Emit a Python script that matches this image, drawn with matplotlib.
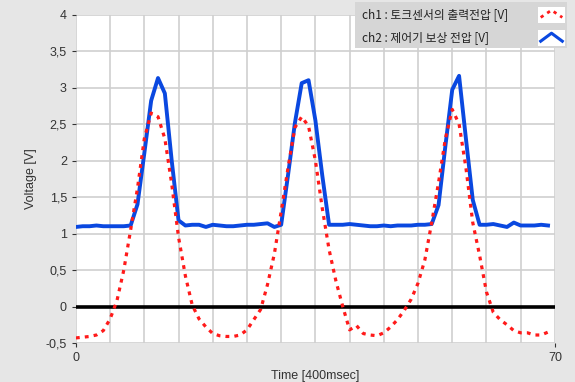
import numpy as np
import matplotlib.pyplot as plt
from matplotlib.patches import Rectangle

# samples, one per 400 ms
t = np.arange(70)

# ch1 : torque sensor output voltage
ch1 = [-0.43, -0.42, -0.41, -0.39, -0.33, -0.17, 0.08, 0.5, 1.05, 1.62,
       2.3, 2.65, 2.6, 2.3, 1.68, 0.95, 0.42, 0.02, -0.17, -0.28,
       -0.37, -0.4, -0.41, -0.41, -0.39, -0.32, -0.18, -0.04, 0.3, 0.72,
       1.3, 1.9, 2.45, 2.6, 2.47, 2.0, 1.35, 0.78, 0.35, 0.0,
       -0.32, -0.26, -0.37, -0.39, -0.4, -0.36, -0.28, -0.18, -0.05, 0.1,
       0.32, 0.64, 1.15, 1.7, 2.3, 2.7, 2.5, 1.9, 1.15, 0.7,
       0.2, -0.08, -0.18, -0.25, -0.33, -0.36, -0.36, -0.39, -0.39, -0.35]

# ch2 : controller compensation voltage
ch2 = [1.09, 1.10, 1.10, 1.11, 1.10, 1.10, 1.10, 1.10, 1.11, 1.40,
       2.10, 2.82, 3.13, 2.92, 2.00, 1.18, 1.11, 1.12, 1.12, 1.09,
       1.12, 1.11, 1.10, 1.10, 1.11, 1.12, 1.12, 1.13, 1.14, 1.09,
       1.12, 1.80, 2.51, 3.06, 3.10, 2.55, 1.80, 1.12, 1.12, 1.12,
       1.13, 1.12, 1.11, 1.10, 1.10, 1.11, 1.10, 1.11, 1.11, 1.11,
       1.12, 1.12, 1.13, 1.39, 2.20, 2.97, 3.16, 2.30, 1.46, 1.12,
       1.12, 1.13, 1.11, 1.09, 1.15, 1.11, 1.11, 1.11, 1.12, 1.11]

yticks = [-0.5, 0, 0.5, 1, 1.5, 2, 2.5, 3, 3.5, 4]
ytick_labels = ['-0,5', '0', '0,5', '1', '1,5', '2', '2,5', '3', '3,5', '4']
legend_labels = ['ch1 : 토크센서의 출력전압 [V]', 'ch2 : 제어기 보상 전압 [V]']

plt.rcParams['font.family'] = ['Liberation Sans Narrow', 'Liberation Sans', 'DejaVu Sans']

fig = plt.figure(figsize=(5.75, 3.82), dpi=100, facecolor='#e6e6e6')
ax = fig.add_axes([0.132, 0.102, 0.833, 0.860])
ax.set_facecolor('white')

ax.plot(t, ch2, color='#0a48e0', lw=2.8, solid_joinstyle='round', zorder=3)
ax.plot(t, ch1, color='#ff1a1a', lw=2.3, linestyle=(0, (1.2, 1.6)), zorder=4)
ax.axhline(0, color='black', lw=2.6, zorder=2)

ax.set_xlim(0, 70)
ax.set_ylim(-0.5, 4)
ax.set_xticks([0, 70])
ax.set_xticks(np.arange(0, 71, 5), minor=True)
ax.set_yticks(yticks)
ax.set_yticklabels(ytick_labels)
ax.tick_params(axis='both', labelsize=9, colors='#333333', length=3)
ax.tick_params(axis='x', which='minor', length=0)
ax.grid(True, which='both', color='#cfcfcf', lw=1.2, zorder=0)
ax.set_axisbelow(True)
for s in ax.spines.values():
    s.set_visible(False)

ax.set_xlabel('Time [400msec]', fontsize=9, color='#333333', labelpad=4)
ax.set_ylabel('Voltage [V]', fontsize=9, color='#333333', labelpad=6)

# legend panel in LabVIEW style
W, H = 575, 382
fig.patches.append(Rectangle((355 / W, 1 - 48 / H), 212 / W, 46 / H,
                             transform=fig.transFigure, facecolor='#d6d6d6',
                             edgecolor='none', zorder=5))
rows = [15, 38]
for i, (lab, yc) in enumerate(zip(legend_labels, rows)):
    fig.text(362 / W, 1 - yc / H, lab, fontsize=8.5, va='center', ha='left',
             family=['Noto Sans CJK KR', 'DejaVu Sans'], color='#222222', zorder=6)
    sw = fig.add_axes([538 / W, 1 - (yc + 8) / H, 27 / W, 16 / H], zorder=7)
    sw.set_facecolor('white')
    sw.set_xticks([])
    sw.set_yticks([])
    for s in sw.spines.values():
        s.set_visible(False)
    sw.set_xlim(0, 1)
    sw.set_ylim(0, 1)
    if i == 0:
        sw.plot([0.1, 0.5, 0.9], [0.35, 0.8, 0.35], color='#ff1a1a', lw=2.0,
                linestyle=(0, (1.2, 1.6)))
    else:
        sw.plot([0.1, 0.5, 0.9], [0.3, 0.8, 0.3], color='#0a48e0', lw=2.2)

fig.savefig('out.png', dpi=100, facecolor=fig.get_facecolor())
